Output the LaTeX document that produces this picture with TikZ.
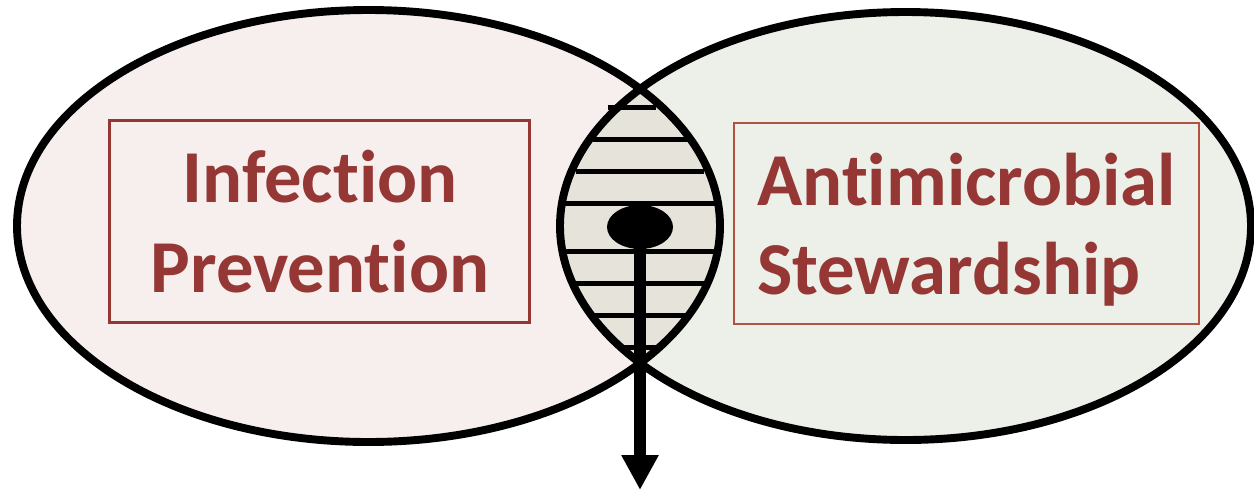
\documentclass[tikz,border=0pt]{standalone}
\usepackage{fontspec}
\setmainfont[Ligatures=NoCommon]{Carlito}
\usetikzlibrary{arrows.meta,shapes.geometric}
\definecolor{ipfill}{RGB}{247,239,238}
\definecolor{asfill}{RGB}{237,240,232}
\definecolor{lensfill}{RGB}{230,228,218}
\definecolor{textred}{RGB}{149,55,53}
\definecolor{boxred}{RGB}{178,82,64}
\tikzset{
  ring/.style={draw=black,line width=4.5pt},
  rung/.style={draw=black,line width=1mm},
  title/.style={text=textred,inner sep=0pt,font=\bfseries\fontsize{42.5}{51}\selectfont},
}
\begin{document}
\begin{tikzpicture}[x=0.02cm,y=-0.02cm]
\useasboundingbox (0,0) rectangle (1254,491);
% the two fields
\fill[ipfill] (368.5,226) ellipse [x radius=351.5,y radius=216];
\fill[asfill] (905.5,226) ellipse [x radius=345.5,y radius=214];
\begin{scope}
\clip (368.5,226) ellipse [x radius=351.5,y radius=216];
\fill[lensfill] (905.5,226) ellipse [x radius=345.5,y radius=214];
\end{scope}
% rungs in the overlap
\draw[rung] (608,107) -- (656,107);
\draw[rung] (593,139) -- (688,139);
\draw[rung] (576,171) -- (704,171);
\draw[rung] (565,203) -- (720,203);
\draw[rung] (565,251) -- (720,251);
\draw[rung] (576,283) -- (704,283);
\draw[rung] (593,315) -- (688,315);
\draw[rung] (624,347) -- (656,347);
\draw[ring] (368.5,226) ellipse [x radius=351.5,y radius=216];
\draw[ring] (905.5,226) ellipse [x radius=345.5,y radius=214];
% labels
\node[draw=textred,line width=1.7pt,minimum width=84.2mm,minimum height=40.6mm] (ipbox) at (319.5,221.5) {};
\node[title,align=center] (iptext) at (320,221.5) {Infection\\Prevention};
\node[draw=boxred,line width=0.9pt,minimum width=93mm,minimum height=40.2mm] (asbox) at (966.5,223.5) {};
\node[title,align=left,anchor=west] (astext) at (757,229.5) {Antimicrobial\\Stewardship};
% core and outlet
\node[ellipse,fill=black,inner sep=0pt,minimum width=13.2mm,minimum height=8.8mm] (core) at (640,227) {};
\coordinate (outlet) at (640,490);
\draw[line width=2.4mm,-{Triangle[width=7mm,length=7mm]}] (core.center) -- (outlet);
\end{tikzpicture}
\end{document}
